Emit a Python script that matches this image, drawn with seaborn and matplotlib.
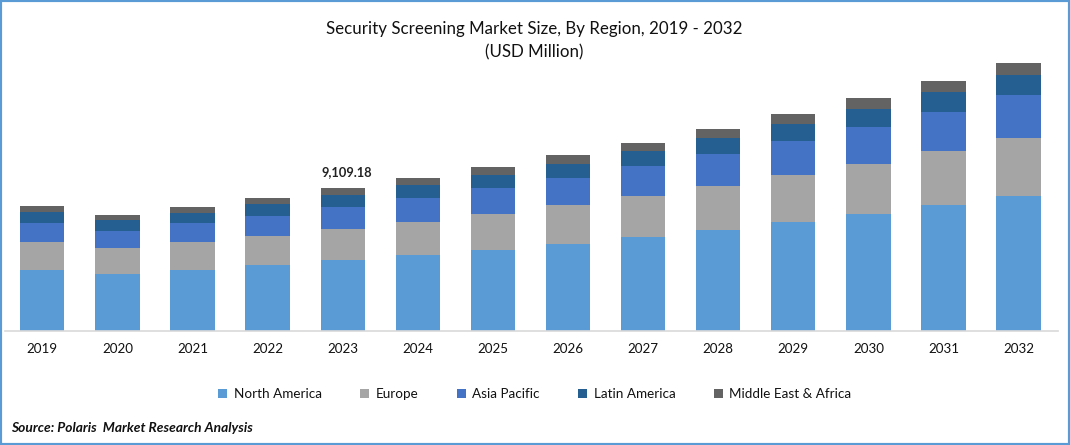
"""security screening market size by region, stacked bars"""

import numpy as np
import pandas as pd
import matplotlib.pyplot as plt
import seaborn as sns
from matplotlib.patches import Rectangle

years = [2019, 2020, 2021, 2022, 2023, 2024, 2025, 2026, 2027, 2028, 2029, 2030, 2031, 2032]

north_america = [3885, 3630, 3885, 4205, 4525, 4840, 5160, 5540, 5990, 6435, 6945, 7455, 8025, 8600]
europe = [1785, 1655, 1785, 1850, 1975, 2100, 2295, 2485, 2610, 2800, 2995, 3185, 3440, 3695]
asia_pacific = [1210, 1085, 1210, 1275, 1400, 1530, 1655, 1720, 1910, 2040, 2165, 2355, 2485, 2740]
latin_america = [700, 700, 635, 765, 765, 830, 830, 890, 955, 1020, 1085, 1145, 1275, 1275]
middle_east_africa = [380, 320, 380, 380, 444, 445, 510, 575, 510, 575, 635, 700, 700, 765]

region_names = ["North America", "Europe", "Asia Pacific", "Latin America", "Middle East & Africa"]
region_colors = ["#5B9BD5", "#A5A5A5", "#4472C4", "#255E91", "#636363"]

sns.set_theme(style="white")
plt.rcParams["font.family"] = ["Lato", "DejaVu Sans"]

df = pd.DataFrame(
    {
        "Year": years,
        "North America": north_america,
        "Europe": europe,
        "Asia Pacific": asia_pacific,
        "Latin America": latin_america,
        "Middle East & Africa": middle_east_africa,
    }
)

fig = plt.figure(figsize=(10.7, 4.45), dpi=100)
ax = fig.add_axes([4.7 / 1070, (445 - 330.9) / 445, 1053 / 1070, 300 / 445])

bottom = np.zeros(len(years))
for name, color in zip(region_names, region_colors):
    sns.barplot(
        data=df,
        x="Year",
        y=name,
        bottom=bottom,
        color=color,
        saturation=1,
        width=0.59,
        linewidth=0,
        label=name,
        ax=ax,
    )
    bottom = bottom + df[name].to_numpy()

ax.set_xlim(-0.5, 13.52)
ax.set_ylim(0, 300 * 63.7)
ax.set_xlabel("")
ax.set_ylabel("")
ax.set_yticks([])
sns.despine(ax=ax, left=True)
ax.spines["bottom"].set_color("#D9D9D9")
ax.spines["bottom"].set_linewidth(1.2)
ax.tick_params(axis="x", length=0, pad=9, labelsize=9.6, labelcolor="#111111")

# value label over the base year
ax.text(4.05, bottom[4] + 620, "9,109.18", ha="center", va="bottom", fontsize=9.3, fontweight="bold", color="#222222")

fig.text(534 / 1070, 1 - 29 / 445, "Security Screening Market Size, By Region, 2019 - 2032", ha="center", va="center", fontsize=12.2, color="#111111")
fig.text(534 / 1070, 1 - 52 / 445, "(USD Million)", ha="center", va="center", fontsize=12.2, color="#111111")

ax.legend(
    loc="center",
    bbox_to_anchor=(535 / 1070, 1 - 394 / 445),
    bbox_transform=fig.transFigure,
    ncol=5,
    frameon=False,
    fontsize=9.7,
    handlelength=0.65,
    handleheight=0.65,
    handletextpad=0.5,
    columnspacing=2.85,
    labelcolor="#111111",
)

fig.text(11 / 1070, 1 - 428 / 445, "Source: Polaris  Market Research Analysis", ha="left", va="center", fontsize=9.9, fontweight="bold", fontstyle="italic", color="#111111")

# blue frame round the whole picture
fig.add_artist(Rectangle((0, 0), 1, 1, transform=fig.transFigure, fill=False, edgecolor="#5B9BD5", linewidth=3))

fig.savefig("out.png", dpi=100)
plt.close()
